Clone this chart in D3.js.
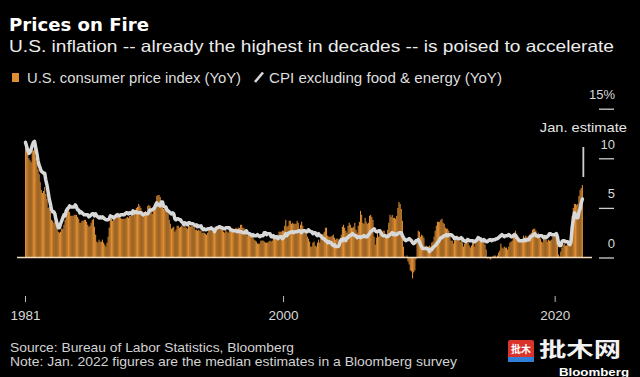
<!DOCTYPE html>
<html>
<head>
<meta charset="utf-8">
<script src="https://cdn.jsdelivr.net/npm/d3@7"></script>
<style>
  html, body { margin: 0; padding: 0; background: #000; }
  svg { display: block; }
</style>
</head>
<body>
<svg id="chart" width="640" height="377"></svg>
<script>
// ---------- DATA ----------
const startYear = 1981; // monthly series start: Jan 1981, last point Jan 2022
// U.S. CPI YoY %, monthly
const cpiYoY = [
  11.8, 11.4, 10.5, 10.0, 9.8, 9.6, 10.8, 10.8, 11.0, 10.1, 9.6, 8.9,   // 1981
  8.4, 7.6, 6.8, 6.5, 6.7, 7.1, 6.4, 5.9, 5.0, 5.1, 4.6, 3.8,           // 1982
  3.7, 3.5, 3.6, 3.9, 3.5, 2.6, 2.5, 2.6, 2.9, 2.9, 3.3, 3.8,           // 1983
  4.2, 4.6, 4.8, 4.6, 4.2, 4.2, 4.2, 4.3, 4.3, 4.3, 4.1, 3.9,           // 1984
  3.5, 3.5, 3.7, 3.7, 3.8, 3.8, 3.6, 3.3, 3.1, 3.2, 3.5, 3.8,           // 1985
  3.9, 3.1, 2.3, 1.6, 1.5, 1.8, 1.6, 1.6, 1.8, 1.5, 1.3, 1.1,           // 1986
  1.5, 2.1, 3.0, 3.8, 3.9, 3.7, 3.9, 4.3, 4.4, 4.5, 4.5, 4.4,           // 1987
  4.0, 3.9, 3.9, 3.9, 3.9, 4.0, 4.1, 4.0, 4.2, 4.2, 4.2, 4.4,           // 1988
  4.7, 4.8, 5.0, 5.1, 5.4, 5.2, 5.0, 4.7, 4.3, 4.5, 4.7, 4.6,           // 1989
  5.2, 5.3, 5.2, 4.7, 4.4, 4.7, 4.8, 5.6, 6.2, 6.3, 6.3, 6.1,           // 1990
  5.7, 5.3, 4.9, 4.9, 5.0, 4.7, 4.4, 3.8, 3.4, 2.9, 3.0, 3.1,           // 1991
  2.6, 2.8, 3.2, 3.2, 3.0, 3.1, 3.2, 3.1, 3.0, 3.2, 3.0, 2.9,           // 1992
  3.3, 3.2, 3.1, 3.2, 3.2, 3.0, 2.8, 2.8, 2.7, 2.8, 2.7, 2.7,           // 1993
  2.5, 2.5, 2.5, 2.4, 2.3, 2.5, 2.8, 2.9, 3.0, 2.6, 2.7, 2.7,           // 1994
  2.8, 2.9, 2.9, 3.1, 3.2, 3.0, 2.8, 2.6, 2.5, 2.8, 2.6, 2.5,           // 1995
  2.7, 2.7, 2.8, 2.9, 2.9, 2.8, 3.0, 2.9, 3.0, 3.0, 3.3, 3.3,           // 1996
  3.0, 3.0, 2.8, 2.5, 2.2, 2.3, 2.2, 2.2, 2.2, 2.1, 1.8, 1.7,           // 1997
  1.6, 1.4, 1.4, 1.4, 1.7, 1.7, 1.7, 1.6, 1.5, 1.5, 1.5, 1.6,           // 1998
  1.7, 1.6, 1.7, 2.3, 2.1, 2.0, 2.1, 2.3, 2.6, 2.6, 2.6, 2.7,           // 1999
  2.7, 3.2, 3.8, 3.1, 3.2, 3.7, 3.7, 3.4, 3.5, 3.4, 3.4, 3.4,           // 2000
  3.7, 3.5, 2.9, 3.3, 3.6, 3.2, 2.7, 2.7, 2.6, 2.1, 1.9, 1.6,           // 2001
  1.1, 1.1, 1.5, 1.6, 1.2, 1.1, 1.5, 1.8, 1.5, 2.0, 2.2, 2.4,           // 2002
  2.6, 3.0, 3.0, 2.2, 2.1, 2.1, 2.1, 2.2, 2.3, 2.0, 1.8, 1.9,           // 2003
  1.9, 1.7, 1.7, 2.3, 3.1, 3.3, 3.0, 2.7, 2.5, 3.2, 3.5, 3.3,           // 2004
  3.0, 3.0, 3.1, 3.5, 2.8, 2.5, 3.2, 3.6, 4.7, 4.3, 3.5, 3.4,           // 2005
  4.0, 3.6, 3.4, 3.5, 4.2, 4.3, 4.1, 3.8, 2.1, 1.3, 2.0, 2.5,           // 2006
  2.1, 2.4, 2.8, 2.6, 2.7, 2.7, 2.4, 2.0, 2.8, 3.5, 4.3, 4.1,           // 2007
  4.3, 4.0, 4.0, 3.9, 4.2, 5.0, 5.6, 5.4, 4.9, 3.7, 1.1, 0.1,           // 2008
  0.0, 0.2, -0.4, -0.7, -1.3, -1.4, -2.1, -1.5, -1.3, -0.2, 1.8, 2.7,   // 2009
  2.6, 2.1, 2.3, 2.2, 2.0, 1.1, 1.2, 1.1, 1.1, 1.2, 1.1, 1.5,           // 2010
  1.6, 2.1, 2.7, 3.2, 3.6, 3.6, 3.6, 3.8, 3.9, 3.5, 3.4, 3.0,           // 2011
  2.9, 2.9, 2.7, 2.3, 1.7, 1.7, 1.4, 1.7, 2.0, 2.2, 1.8, 1.7,           // 2012
  1.6, 2.0, 1.5, 1.1, 1.4, 1.8, 2.0, 1.5, 1.2, 1.0, 1.2, 1.5,           // 2013
  1.6, 1.1, 1.5, 2.0, 2.1, 2.1, 2.0, 1.7, 1.7, 1.7, 1.3, 0.8,           // 2014
  -0.1, 0.0, -0.1, -0.2, 0.0, 0.1, 0.2, 0.2, 0.0, 0.2, 0.5, 0.7,        // 2015
  1.4, 1.0, 0.9, 1.1, 1.0, 1.0, 0.8, 1.1, 1.5, 1.6, 1.7, 2.1,           // 2016
  2.5, 2.7, 2.4, 2.2, 1.9, 1.6, 1.7, 1.9, 2.2, 2.0, 2.2, 2.1,           // 2017
  2.1, 2.2, 2.4, 2.5, 2.8, 2.9, 2.9, 2.7, 2.3, 2.5, 2.2, 1.9,           // 2018
  1.6, 1.5, 1.9, 2.0, 1.8, 1.6, 1.8, 1.7, 1.7, 1.8, 2.1, 2.3,           // 2019
  2.5, 2.3, 1.5, 0.3, 0.1, 0.6, 1.0, 1.3, 1.4, 1.2, 1.2, 1.4,           // 2020
  1.4, 1.7, 2.6, 4.2, 5.0, 5.4, 5.4, 5.3, 5.4, 6.2, 6.8, 7.0,           // 2021
  7.3                                                                   // Jan 2022 (estimate)
];
// CPI excluding food & energy YoY %, monthly
const coreYoY = [
  11.6, 11.2, 10.8, 10.5, 10.6, 10.9, 11.3, 11.6, 11.7, 11.1, 10.5, 9.8, // 1981
  9.3, 9.0, 8.7, 8.6, 8.5, 8.5, 7.8, 7.3, 6.6, 5.9, 5.4, 4.8,           // 1982
  4.6, 4.6, 4.4, 3.8, 3.4, 3.0, 3.0, 3.4, 3.7, 4.0, 4.3, 4.2,           // 1983
  4.7, 4.9, 5.0, 5.2, 5.1, 5.1, 5.1, 5.1, 5.3, 5.1, 4.8, 4.8,           // 1984
  4.5, 4.6, 4.5, 4.4, 4.3, 4.3, 4.3, 4.3, 4.1, 4.2, 4.3, 4.4,           // 1985
  4.4, 4.2, 4.4, 4.2, 4.1, 4.0, 4.1, 4.0, 4.1, 4.0, 3.9, 3.8,           // 1986
  3.8, 3.8, 3.9, 4.2, 4.1, 4.1, 4.0, 4.1, 4.2, 4.3, 4.2, 4.2,           // 1987
  4.3, 4.3, 4.3, 4.3, 4.4, 4.5, 4.5, 4.4, 4.5, 4.5, 4.4, 4.7,           // 1988
  4.5, 4.6, 4.6, 4.5, 4.5, 4.5, 4.5, 4.4, 4.3, 4.4, 4.4, 4.4,           // 1989
  4.4, 4.6, 4.8, 4.8, 4.8, 4.9, 5.0, 5.3, 5.5, 5.3, 5.3, 5.2,           // 1990
  5.6, 5.6, 5.2, 5.1, 5.1, 4.8, 4.7, 4.6, 4.5, 4.4, 4.5, 4.4,           // 1991
  3.9, 3.8, 3.9, 3.9, 3.8, 3.8, 3.6, 3.5, 3.3, 3.5, 3.4, 3.3,           // 1992
  3.5, 3.5, 3.4, 3.4, 3.4, 3.3, 3.2, 3.3, 3.1, 3.2, 3.1, 3.2,           // 1993
  2.9, 2.8, 2.9, 2.8, 2.8, 2.9, 2.9, 2.9, 3.0, 2.9, 2.8, 2.6,           // 1994
  2.9, 3.0, 3.0, 3.1, 3.1, 3.0, 3.0, 2.9, 2.9, 3.0, 3.0, 3.0,           // 1995
  3.0, 2.8, 2.8, 2.7, 2.7, 2.7, 2.7, 2.6, 2.7, 2.6, 2.6, 2.6,           // 1996
  2.5, 2.5, 2.5, 2.7, 2.5, 2.4, 2.4, 2.3, 2.2, 2.3, 2.2, 2.2,           // 1997
  2.2, 2.3, 2.2, 2.1, 2.2, 2.2, 2.2, 2.5, 2.5, 2.3, 2.4, 2.4,           // 1998
  2.4, 2.1, 2.1, 2.2, 2.0, 2.1, 2.1, 1.9, 2.0, 2.1, 2.1, 1.9,           // 1999
  2.0, 2.2, 2.4, 2.2, 2.4, 2.5, 2.5, 2.6, 2.6, 2.5, 2.6, 2.6,           // 2000
  2.6, 2.7, 2.7, 2.6, 2.5, 2.7, 2.7, 2.7, 2.6, 2.6, 2.8, 2.7,           // 2001
  2.6, 2.6, 2.4, 2.5, 2.5, 2.3, 2.2, 2.4, 2.2, 2.2, 2.0, 1.9,           // 2002
  1.9, 1.7, 1.7, 1.5, 1.6, 1.5, 1.5, 1.3, 1.2, 1.3, 1.1, 1.1,           // 2003
  1.1, 1.2, 1.6, 1.8, 1.7, 1.9, 1.8, 1.7, 2.0, 2.0, 2.2, 2.2,           // 2004
  2.3, 2.4, 2.3, 2.2, 2.2, 2.0, 2.1, 2.1, 2.0, 2.1, 2.1, 2.2,           // 2005
  2.1, 2.1, 2.1, 2.3, 2.4, 2.6, 2.7, 2.8, 2.9, 2.7, 2.6, 2.6,           // 2006
  2.7, 2.7, 2.5, 2.3, 2.2, 2.2, 2.2, 2.1, 2.1, 2.2, 2.3, 2.4,           // 2007
  2.5, 2.3, 2.4, 2.3, 2.3, 2.4, 2.5, 2.5, 2.5, 2.2, 2.0, 1.8,           // 2008
  1.7, 1.8, 1.8, 1.9, 1.8, 1.7, 1.5, 1.4, 1.5, 1.7, 1.7, 1.8,           // 2009
  1.6, 1.3, 1.1, 0.9, 0.9, 0.9, 0.9, 0.9, 0.8, 0.6, 0.8, 0.8,           // 2010
  1.0, 1.1, 1.2, 1.3, 1.5, 1.6, 1.8, 2.0, 2.0, 2.1, 2.2, 2.2,           // 2011
  2.3, 2.2, 2.3, 2.3, 2.3, 2.2, 2.1, 1.9, 2.0, 2.0, 1.9, 1.9,           // 2012
  1.9, 2.0, 1.9, 1.7, 1.7, 1.6, 1.7, 1.8, 1.7, 1.7, 1.7, 1.7,           // 2013
  1.6, 1.6, 1.7, 1.8, 2.0, 1.9, 1.9, 1.7, 1.7, 1.8, 1.7, 1.6,           // 2014
  1.6, 1.7, 1.8, 1.8, 1.7, 1.8, 1.8, 1.8, 1.9, 1.9, 2.0, 2.1,           // 2015
  2.2, 2.3, 2.2, 2.1, 2.2, 2.2, 2.2, 2.3, 2.2, 2.1, 2.1, 2.2,           // 2016
  2.3, 2.2, 2.0, 1.9, 1.7, 1.7, 1.7, 1.7, 1.7, 1.8, 1.7, 1.8,           // 2017
  1.8, 1.8, 2.1, 2.1, 2.2, 2.3, 2.4, 2.2, 2.2, 2.1, 2.2, 2.2,           // 2018
  2.2, 2.1, 2.0, 2.1, 2.0, 2.1, 2.2, 2.4, 2.4, 2.3, 2.3, 2.3,           // 2019
  2.3, 2.4, 2.1, 1.4, 1.2, 1.2, 1.6, 1.7, 1.7, 1.6, 1.6, 1.6,           // 2020
  1.4, 1.3, 1.6, 3.0, 3.8, 4.5, 4.3, 4.0, 4.0, 4.6, 4.9, 5.5,           // 2021
  5.9                                                                   // Jan 2022 (estimate)
];
const xTickYears = [1981, 2000, 2020];
const xTickLabels = ["1981", "2000", "2020"];
const yTickValues = [0, 5, 10, 15];
const yTickLabels = ["0", "5", "10", "15%"];

// ---------- STYLE ----------
const barColor = "#de8e34";
const lineColor = "#d8d8d8";
const bodyFont = "'Liberation Sans', Arial, sans-serif";

const svg = d3.select("#chart");
svg.append("rect").attr("width", 640).attr("height", 377).attr("fill", "#000");

const months = cpiYoY.map((v, i) => new Date(startYear, i, 1));
const endDate = new Date(startYear, cpiYoY.length, 1);

const x = d3.scaleTime().domain([months[0], endDate]).range([25, 583]);
const y = d3.scaleLinear().domain([0, 15]).range([257.5, 108.7]);

// Bars
const bars = svg.append("g");
bars.selectAll("rect").data(cpiYoY).join("rect")
  .attr("x", (d, i) => x(months[i]))
  .attr("width", (d, i) => (x(new Date(startYear, i + 1, 1)) - x(months[i])) * 0.93)
  .attr("y", d => Math.min(y(d), y(0)))
  .attr("height", d => Math.abs(y(d) - y(0)))
  .attr("fill", barColor);

// Zero line
svg.append("line")
  .attr("x1", 17).attr("x2", 592)
  .attr("y1", y(0)).attr("y2", y(0))
  .attr("stroke", "#f1dcbc").attr("stroke-width", 1.6);

// Core line
const line = d3.line()
  .x((d, i) => x(new Date(startYear, i, 15)))
  .y(d => y(d));
svg.append("path").datum(coreYoY)
  .attr("d", line)
  .attr("fill", "none")
  .attr("stroke", lineColor)
  .attr("stroke-width", 3.5)
  .attr("stroke-linejoin", "round")
  .attr("stroke-linecap", "round");

// Right axis
const yAxis = d3.axisRight(y).tickValues(yTickValues).tickSize(15)
  .tickFormat((d, i) => yTickLabels[i]);
const ya = svg.append("g").attr("transform", "translate(599,0)").call(yAxis);
ya.select(".domain").remove();
ya.selectAll(".tick line").attr("stroke", "#cfcfcf").attr("stroke-width", 1.3);
ya.selectAll(".tick text")
  .attr("x", 16).attr("y", -10).attr("dy", 0)
  .attr("text-anchor", "end")
  .attr("fill", "#d8d8d8")
  .style("font-family", bodyFont).style("font-size", "13px");

// Bottom axis
const xAxis = d3.axisBottom(x)
  .tickValues(xTickYears.map(yr => new Date(yr, 0, 1)))
  .tickSize(6)
  .tickFormat((d, i) => xTickLabels[i]);
const xa = svg.append("g").attr("transform", "translate(0,296)").call(xAxis);
xa.select(".domain").remove();
xa.selectAll(".tick line").attr("stroke", "#bbbbbb");
xa.selectAll(".tick text")
  .attr("y", 24).attr("dy", 0)
  .attr("fill", "#d8d8d8")
  .style("font-family", bodyFont).style("font-size", "13.5px");

// Jan. estimate annotation
const lastDate = months[months.length - 1];
const annX = x(lastDate) + 1.5;
svg.append("line")
  .attr("x1", annX).attr("x2", annX)
  .attr("y1", 147).attr("y2", 177)
  .attr("stroke", "#d0d0d0").attr("stroke-width", 1.8);
svg.append("text")
  .attr("x", annX).attr("y", 131.5)
  .attr("text-anchor", "middle")
  .attr("fill", "#e6e6e6")
  .style("font-family", bodyFont).style("font-size", "13.5px")
  .attr("textLength", 87).attr("lengthAdjust", "spacingAndGlyphs")
  .text("Jan. estimate");

// Titles
svg.append("text")
  .attr("x", 9).attr("y", 30.7)
  .attr("fill", "#ffffff")
  .style("font-family", "'DejaVu Sans', sans-serif").style("font-weight", "bold").style("font-size", "17.5px")
  .attr("textLength", 140).attr("lengthAdjust", "spacingAndGlyphs")
  .text("Prices on Fire");
svg.append("text")
  .attr("x", 9).attr("y", 52.3)
  .attr("fill", "#ececec")
  .style("font-family", bodyFont).style("font-size", "16.5px")
  .attr("textLength", 605).attr("lengthAdjust", "spacingAndGlyphs")
  .text("U.S. inflation -- already the highest in decades -- is poised to accelerate");

// Legend
svg.append("rect").attr("x", 12).attr("y", 73).attr("width", 7).attr("height", 9).attr("fill", barColor);
svg.append("text")
  .attr("x", 27).attr("y", 82.7)
  .attr("fill", "#dedede")
  .style("font-family", bodyFont).style("font-size", "14px")
  .attr("textLength", 214).attr("lengthAdjust", "spacingAndGlyphs")
  .text("U.S. consumer price index (YoY)");
svg.append("line")
  .attr("x1", 255).attr("y1", 82).attr("x2", 263).attr("y2", 72.5)
  .attr("stroke", lineColor).attr("stroke-width", 2.6);
svg.append("text")
  .attr("x", 269).attr("y", 82.7)
  .attr("fill", "#dedede")
  .style("font-family", bodyFont).style("font-size", "14px")
  .attr("textLength", 233).attr("lengthAdjust", "spacingAndGlyphs")
  .text("CPI excluding food & energy (YoY)");

// Footer
svg.append("text")
  .attr("x", 10).attr("y", 351.7)
  .attr("fill", "#d2d2d2")
  .style("font-family", bodyFont).style("font-size", "13px")
  .attr("textLength", 284).attr("lengthAdjust", "spacingAndGlyphs")
  .text("Source: Bureau of Labor Statistics, Bloomberg");
svg.append("text")
  .attr("x", 10).attr("y", 365.5)
  .attr("fill", "#d2d2d2")
  .style("font-family", bodyFont).style("font-size", "13px")
  .attr("textLength", 447).attr("lengthAdjust", "spacingAndGlyphs")
  .text("Note: Jan. 2022 figures are the median estimates in a Bloomberg survey");

// Watermark
const wm = svg.append("g");
wm.append("rect").attr("x", 508).attr("y", 340).attr("width", 26).attr("height", 22).attr("rx", 2).attr("fill", "#d9332b");
wm.append("rect").attr("x", 508).attr("y", 357).attr("width", 26).attr("height", 5).attr("fill", "#2f7fd6");
wm.append("text").attr("x", 521).attr("y", 353).attr("text-anchor", "middle")
  .attr("fill", "#fff").style("font-family", "'Noto Sans CJK SC', sans-serif").style("font-weight", "bold").style("font-size", "10px")
  .text("批木");
wm.append("text").attr("x", 539).attr("y", 357).attr("fill", "#f2f2f2")
  .style("font-family", "'Noto Sans CJK SC', sans-serif").style("font-weight", "bold").style("font-size", "20px")
  .attr("textLength", 82).attr("lengthAdjust", "spacingAndGlyphs")
  .text("批木网");
wm.append("text").attr("x", 559).attr("y", 376).attr("fill", "#ffffff")
  .style("font-family", "'Liberation Sans', Arial, sans-serif").style("font-weight", "bold").style("font-size", "11px")
  .attr("textLength", 70).attr("lengthAdjust", "spacingAndGlyphs")
  .text("Bloomberg");
</script>
</body>
</html>
